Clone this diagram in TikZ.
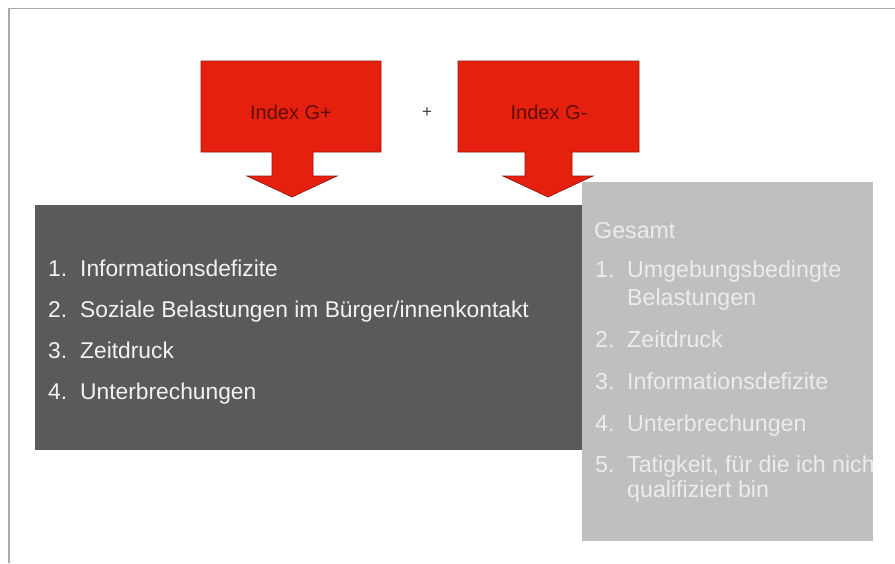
\documentclass[tikz,border=0pt]{standalone}
\usepackage{fontspec}
\setmainfont{Liberation Sans}
\definecolor{calloutred}{RGB}{230,32,14}
\definecolor{calloutedge}{RGB}{150,22,12}
\definecolor{calloutink}{RGB}{95,12,6}
\definecolor{darkpanel}{RGB}{90,90,90}
\definecolor{lightpanel}{RGB}{191,191,191}
\definecolor{darkink}{RGB}{242,242,244}
\definecolor{lightink}{RGB}{236,236,236}
\definecolor{framegray}{RGB}{170,170,170}
\begin{document}
\begin{tikzpicture}[x=1pt,y=-1pt,
  callout/.style={fill=calloutred,draw=calloutedge,line width=0.7pt,line join=miter},
  calloutlabel/.style={inner sep=0pt,text=calloutink,font=\fontsize{20}{24}\selectfont},
  panel/.style={inner sep=0pt,outer sep=0pt,anchor=north west},
  darkitem/.style={inner sep=0pt,anchor=base west,text=darkink,font=\fontsize{22.8}{27}\selectfont},
  lightitem/.style={inner sep=0pt,anchor=base west,text=lightink,font=\fontsize{23.2}{27}\selectfont}]
\useasboundingbox (0,0) rectangle (895,563);
\fill[white] (0,0) rectangle (895,563);
% thin frame along the top and left edges
\draw[framegray,line width=1.3pt] (9,563) -- (9,8.5) -- (895,8.5);

% dark panel with the four items
\node[panel,fill=darkpanel,minimum width=547pt,minimum height=245pt] (darkbox) at (35,205) {};
\node[darkitem] (d1n) at (48,276) {1.};
\node[darkitem] (d1) at (80,276) {Informationsdefizite};
\node[darkitem] (d2n) at (48,317) {2.};
\node[darkitem] (d2) at (80,317) {Soziale Belastungen im Bürger/innenkontakt};
\node[darkitem] (d3n) at (48,358) {3.};
\node[darkitem] (d3) at (80,358) {Zeitdruck};
\node[darkitem] (d4n) at (48,399) {4.};
\node[darkitem] (d4) at (80,399) {Unterbrechungen};

% light panel with the overall ranking (text clipped at its right edge)
\node[panel,fill=lightpanel,minimum width=291pt,minimum height=359pt] (lightbox) at (582,182) {};
\begin{scope}
  \clip (582,182) rectangle (873,541);
  \node[lightitem] (gtitle) at (594,238) {Gesamt};
  \node[lightitem] (g1n) at (595,277) {1.};
  \node[lightitem] (g1) at (627,277) {Umgebungsbedingte};
  \node[lightitem] (g1b) at (627,305) {Belastungen};
  \node[lightitem] (g2n) at (595,347) {2.};
  \node[lightitem] (g2) at (627,347) {Zeitdruck};
  \node[lightitem] (g3n) at (595,389) {3.};
  \node[lightitem] (g3) at (627,389) {Informationsdefizite};
  \node[lightitem] (g4n) at (595,431) {4.};
  \node[lightitem] (g4) at (627,431) {Unterbrechungen};
  \node[lightitem] (g5n) at (595,472) {5.};
  \node[lightitem] (g5) at (627,472) {Tatigkeit, für die ich nicht};
  \node[lightitem] (g5b) at (627,497) {qualifiziert bin};
\end{scope}

% red callouts pointing down onto the panels
\draw[callout] (201,61) -- (381,61) -- (381,152) -- (313,152) -- (313,176) -- (337,176)
  -- (292,197) -- (247,176) -- (272,176) -- (272,152) -- (201,152) -- cycle;
\node[calloutlabel] (gplus) at (291,112) {Index G+};

\draw[callout] (458,61) -- (639,61) -- (639,152) -- (572,152) -- (572,176) -- (593,176)
  -- (548,197) -- (503,176) -- (525,176) -- (525,152) -- (458,152) -- cycle;
\node[calloutlabel] (gminus) at (549,112) {Index G-};

\node[inner sep=0pt,text=black!75,font=\fontsize{17}{20}\selectfont] (plus) at (427,113) {+};
\end{tikzpicture}
\end{document}
